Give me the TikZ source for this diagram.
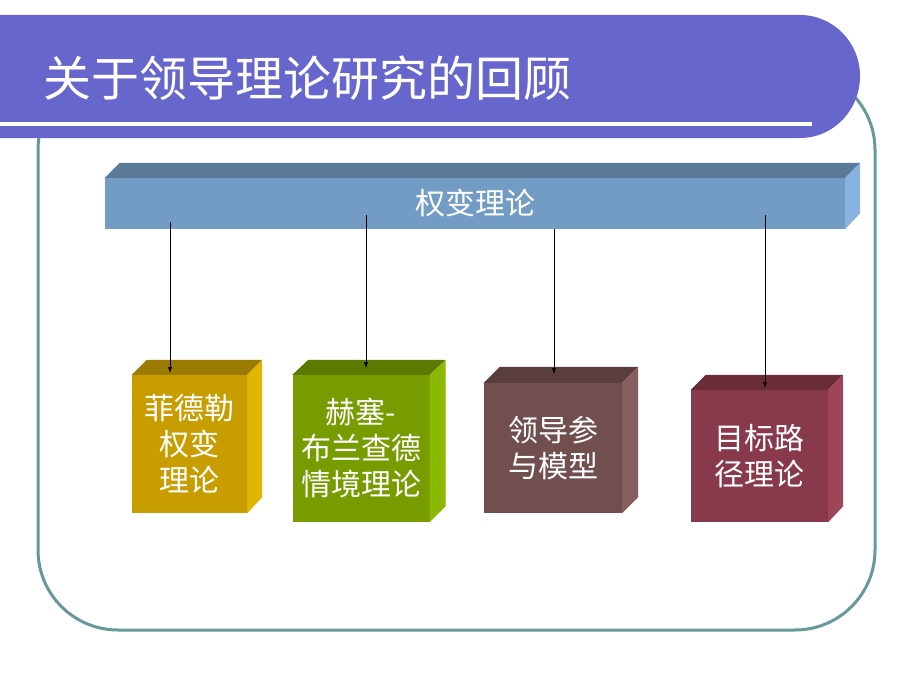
\documentclass[tikz,border=0pt]{standalone}
\usepackage{fontspec}
\setmainfont{Noto Sans CJK SC}
\usepackage{xcolor}
\usepackage{tikz}
\usetikzlibrary{
	calc,
	arrows.meta,
	positioning
	}
\definecolor{bandeau}{RGB}{102,102,204}
\definecolor{cadre}{RGB}{104,153,153}
\definecolor{barre-av}{RGB}{115,156,196}
\definecolor{barre-haut}{RGB}{91,122,154}
\definecolor{barre-cote}{RGB}{136,179,224}
\definecolor{or-av}{RGB}{199,157,0}
\definecolor{or-haut}{RGB}{156,123,0}
\definecolor{or-cote}{RGB}{224,182,0}
\definecolor{vert-av}{RGB}{118,156,0}
\definecolor{vert-haut}{RGB}{92,122,0}
\definecolor{vert-cote}{RGB}{139,184,0}
\definecolor{brun-av}{RGB}{114,79,79}
\definecolor{brun-haut}{RGB}{90,61,61}
\definecolor{brun-cote}{RGB}{133,95,95}
\definecolor{rouge-av}{RGB}{136,57,75}
\definecolor{rouge-haut}{RGB}{107,44,58}
\definecolor{rouge-cote}{RGB}{158,69,88}
\tikzstyle{boite-std}=[inner sep=0pt,text=white,align=center,font=\fontsize{30}{36}\selectfont]
\tikzstyle{fleche-std}=[thin,-{Latex[length=6pt,width=4pt]}]

\begin{document}
\begin{tikzpicture}[x=1pt,y=-1pt]
\useasboundingbox[fill=white] (0,0) rectangle (920,690);

% cadre et bandeau
\draw[cadre,line width=3pt,rounded corners=80pt] (38,70) rectangle (875,630);
\fill[bandeau] (0,15) -- (800,15) to[out=0,in=90] (860,76)
   to[out=-90,in=0] (800,138) -- (0,138) -- cycle;
\fill[white] (0,122) rectangle (812,126);
\node[anchor=west,text=white,inner sep=0pt,font=\fontsize{48}{56}\selectfont] (titre) at (43,78) {关于领导理论研究的回顾};

% barre du haut
\node[boite-std,fill=barre-av,minimum width=740,minimum height=51] (barre) at (475,203.5) {权变理论};
\fill[barre-haut] (barre.north west) -- ++(15,-15) -- ($(barre.north east)+(15,-15)$) -- (barre.north east) -- cycle;
\fill[barre-cote] (barre.north east) -- ++(15,-15) -- ($(barre.south east)+(15,-16)$) -- (barre.south east) -- cycle;

% boites
\node[boite-std,fill=or-av,minimum width=115,minimum height=138] (b1) at (189.5,444) {菲德勒\\权变\\理论};
\fill[or-haut] (b1.north west) -- ++(15,-15) -- ($(b1.north east)+(15,-15)$) -- (b1.north east) -- cycle;
\fill[or-cote] (b1.north east) -- ++(15,-15) -- ($(b1.south east)+(15,-16)$) -- (b1.south east) -- cycle;

\node[boite-std,fill=vert-av,minimum width=137,minimum height=147] (b2) at (361,448.5) {赫塞-\\布兰查德\\情境理论};
\fill[vert-haut] (b2.north west) -- ++(16,-15) -- ($(b2.north east)+(16,-15)$) -- (b2.north east) -- cycle;
\fill[vert-cote] (b2.north east) -- ++(16,-15) -- ($(b2.south east)+(16,-16)$) -- (b2.south east) -- cycle;

\node[boite-std,fill=brun-av,minimum width=138,minimum height=130] (b3) at (553,448) {领导参\\与模型};
\fill[brun-haut] (b3.north west) -- ++(16,-16) -- ($(b3.north east)+(16,-16)$) -- (b3.north east) -- cycle;
\fill[brun-cote] (b3.north east) -- ++(16,-16) -- ($(b3.south east)+(16,-16)$) -- (b3.south east) -- cycle;

\node[boite-std,fill=rouge-av,minimum width=137,minimum height=132] (b4) at (759.5,456) {目标路\\径理论};
\fill[rouge-haut] (b4.north west) -- ++(15,-15) -- ($(b4.north east)+(15,-15)$) -- (b4.north east) -- cycle;
\fill[rouge-cote] (b4.north east) -- ++(15,-15) -- ($(b4.south east)+(15,-16)$) -- (b4.south east) -- cycle;

% fleches
\coordinate (d1) at (170,222);
\coordinate (d2) at (366,215);
\coordinate (d3) at (554,229);
\coordinate (d4) at (765,215);
\coordinate (a1) at (170,373);
\coordinate (a2) at (366,368);
\coordinate (a3) at (554,374);
\coordinate (a4) at (765,388);
\draw[fleche-std] (d1) -- (a1);
\draw[fleche-std] (d2) -- (a2);
\draw[fleche-std] (d3) -- (a3);
\draw[fleche-std] (d4) -- (a4);
\end{tikzpicture}
\end{document}
